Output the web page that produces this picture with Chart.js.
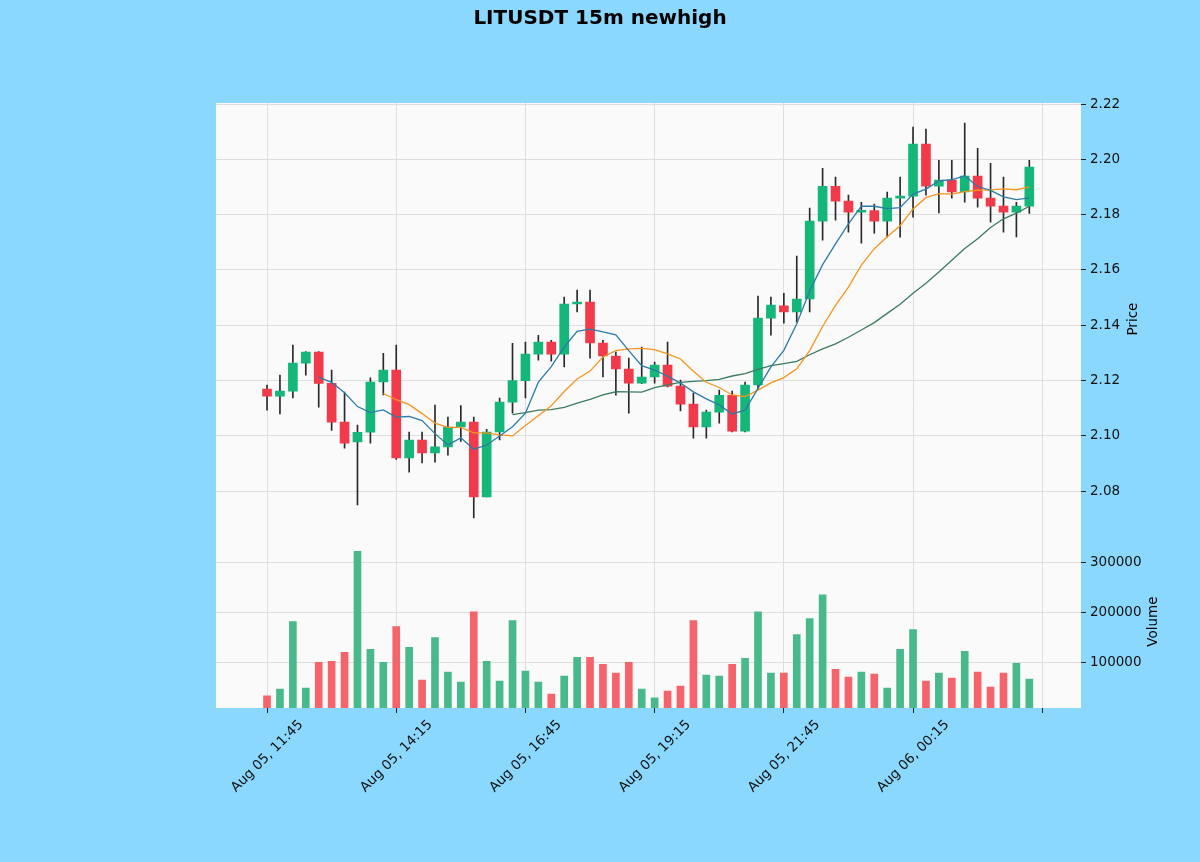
<!DOCTYPE html>
<html>
<head>
<meta charset="utf-8">
<title>LITUSDT 15m newhigh</title>
<script src="https://cdn.jsdelivr.net/npm/chart.js@4.4.1/dist/chart.umd.min.js"></script>
<style>
  html, body { margin: 0; padding: 0; background: #8ad8fe; }
  .wrap { position: relative; width: 1200px; height: 862px; }
  .js-chart { position: absolute; left: 0; top: 0; }
  .title {
    position: absolute; top: 5px; left: 0; width: 1200px;
    text-align: center; font: bold 20px "DejaVu Sans"; line-height: 24px; color: #000;
  }
</style>
</head>
<body>
<div class="wrap">
  <canvas class="js-chart" width="1200" height="862"></canvas>
  <div class="title">LITUSDT 15m newhigh</div>
</div>
<script>
const ctx = document.querySelector(".js-chart").getContext("2d");

// x ticks every 10 candles (2.5 h); the last tick has no label
const X_TICKS = [0, 10, 20, 30, 40, 50, 60];
const TICK_LABELS = [
  "Aug 05, 11:45", "Aug 05, 14:15", "Aug 05, 16:45",
  "Aug 05, 19:15", "Aug 05, 21:45", "Aug 06, 00:15", "",
];
const PRICE_TICKS = [2.08, 2.10, 2.12, 2.14, 2.16, 2.18, 2.20, 2.22];
const VOLUME_TICKS = [100000, 200000, 300000];

const OPENS = [
  2.1169, 2.1144, 2.1162, 2.1263, 2.1303, 2.1190, 2.1050, 2.0978, 2.1013, 2.1195,
  2.1238, 2.0920, 2.0985, 2.0938, 2.0960, 2.1032, 2.1050, 2.0779, 2.1014, 2.1122,
  2.1200, 2.1296, 2.1339, 2.1296, 2.1477, 2.1484, 2.1336, 2.1289, 2.1242, 2.1191,
  2.1213, 2.1256, 2.1180, 2.1115, 2.1032, 2.1086, 2.1147, 2.1017, 2.1184, 2.1426,
  2.1470, 2.1448, 2.1495, 2.1777, 2.1903, 2.1849, 2.1809, 2.1815, 2.1777, 2.1860,
  2.1867, 2.2055, 2.1903, 2.1925, 2.1882, 2.1940, 2.1860, 2.1831, 2.1809, 2.1831,
];
const HIGHS = [
  2.1184, 2.1220, 2.1328, 2.1305, 2.1305, 2.1238, 2.1158, 2.1039, 2.1210, 2.1299,
  2.1328, 2.1014, 2.1014, 2.1111, 2.1068, 2.1110, 2.1068, 2.1024, 2.1137, 2.1335,
  2.1339, 2.1364, 2.1346, 2.1502, 2.1527, 2.1527, 2.1346, 2.1303, 2.1281, 2.1321,
  2.1267, 2.1339, 2.1202, 2.1155, 2.1093, 2.1166, 2.1162, 2.1195, 2.1506, 2.1502,
  2.1516, 2.1650, 2.1824, 2.1968, 2.1936, 2.1871, 2.1845, 2.1838, 2.1882, 2.1936,
  2.2117, 2.2110, 2.1997, 2.1997, 2.2131, 2.2040, 2.1986, 2.1936, 2.1845, 2.1997,
];
const LOWS = [
  2.1093, 2.1079, 2.1137, 2.1220, 2.1104, 2.1020, 2.0956, 2.0750, 2.0974, 2.1148,
  2.0915, 2.0869, 2.0902, 2.0905, 2.0930, 2.0980, 2.0703, 2.0779, 2.0985, 2.1082,
  2.1137, 2.1274, 2.1270, 2.1249, 2.1448, 2.1281, 2.1213, 2.1147, 2.1082, 2.1189,
  2.1191, 2.1177, 2.1090, 2.0992, 2.0992, 2.1046, 2.1014, 2.1014, 2.1170, 2.1364,
  2.1408, 2.1411, 2.1448, 2.1708, 2.1780, 2.1737, 2.1697, 2.1733, 2.1719, 2.1719,
  2.1791, 2.1871, 2.1806, 2.1860, 2.1845, 2.1827, 2.1773, 2.1737, 2.1720, 2.1805,
];
const CLOSES = [
  2.1144, 2.1162, 2.1263, 2.1303, 2.1190, 2.1050, 2.0974, 2.1013, 2.1195, 2.1238,
  2.0920, 2.0985, 2.0938, 2.0960, 2.1032, 2.1050, 2.0779, 2.1014, 2.1122, 2.1200,
  2.1296, 2.1339, 2.1296, 2.1477, 2.1484, 2.1336, 2.1289, 2.1242, 2.1191, 2.1213,
  2.1256, 2.1180, 2.1115, 2.1032, 2.1086, 2.1147, 2.1017, 2.1184, 2.1426, 2.1473,
  2.1448, 2.1495, 2.1777, 2.1903, 2.1849, 2.1809, 2.1815, 2.1777, 2.1860, 2.1867,
  2.2055, 2.1903, 2.1925, 2.1882, 2.1940, 2.1860, 2.1831, 2.1809, 2.1831, 2.1972,
];
const VOLUMES = [
  32700, 46500, 181200, 48500, 100000, 102000, 119800, 321800, 125700, 100000,
  171300, 129700, 64400, 149500, 80200, 60400, 201000, 102000, 62400, 183200,
  82200, 60400, 36600, 72300, 109900, 109900, 96000, 78200, 100000, 46500,
  28700, 42600, 52500, 183200, 74300, 72300, 96000, 107900, 201000, 78200,
  78200, 155400, 187100, 234700, 86100, 70300, 80200, 76200, 48500, 125700,
  165300, 62400, 78200, 68300, 121800, 80200, 50500, 78200, 98000, 66300,
];

const MAV_WINDOWS = [5, 10, 20];
const MAV_COLORS = ["#2b7ba6", "#f5951f", "#3a7c5e"];

const UP = "#14b67a";
const DOWN = "#f23b4a";
const UP_VOL = "#48b98b";
const DOWN_VOL = "#f5636b";
const GRID = "#dedede";
const FONT = { family: "DejaVu Sans", size: 13.5 };

const isUp = (i) => CLOSES[i] >= OPENS[i];

// rolling mean of the closes, as the original indicator lines
function movingAverage(values, n) {
  return values.map((_, i) => {
    if (i < n - 1) return { x: i, y: null };
    const win = values.slice(i - n + 1, i + 1);
    return { x: i, y: win.reduce((a, b) => a + b, 0) / n };
  });
}

const fixedTicks = (values) => (scale) => {
  scale.ticks = values.map((value) => ({ value }));
};

const panelBackground = {
  id: "panelBackground",
  beforeDraw(chart) {
    const { ctx, chartArea: a } = chart;
    ctx.save();
    ctx.fillStyle = "#fafafa";
    ctx.fillRect(a.left, a.top, a.right - a.left, a.bottom - a.top);
    ctx.restore();
  },
};

// matplotlib-style right ylabels, reading bottom to top
const axisTitles = {
  id: "axisTitles",
  afterDraw(chart) {
    const { ctx, chartArea: a, scales } = chart;
    [[scales.y, "Price", 52], [scales.yv, "Volume", 72]].forEach(([s, text, dx]) => {
      ctx.save();
      ctx.translate(a.right + dx, (s.top + s.bottom) / 2);
      ctx.rotate(-Math.PI / 2);
      ctx.font = '13.5px "DejaVu Sans"';
      ctx.fillStyle = "#000";
      ctx.textAlign = "center";
      ctx.textBaseline = "middle";
      ctx.fillText(text, 0, 0);
      ctx.restore();
    });
  },
};

const idx = CLOSES.map((_, i) => i);

new Chart(ctx, {
  data: {
    datasets: [
      ...MAV_WINDOWS.map((n, k) => ({
        type: "line",
        data: movingAverage(CLOSES, n),
        borderColor: MAV_COLORS[k],
        borderWidth: 1.3,
        pointRadius: 0,
        spanGaps: false,
        yAxisID: "y",
        order: 0,
      })),
      {
        type: "bar",
        data: idx.map((i) => ({ x: i, y: [OPENS[i], CLOSES[i]] })),
        backgroundColor: idx.map((i) => (isUp(i) ? UP : DOWN)),
        barThickness: 9,
        minBarLength: 2,
        grouped: false,
        yAxisID: "y",
        order: 1,
      },
      {
        type: "bar",
        data: idx.map((i) => ({ x: i, y: [LOWS[i], HIGHS[i]] })),
        backgroundColor: "#2a2a2a",
        barThickness: 1,
        grouped: false,
        yAxisID: "y",
        order: 2,
      },
      {
        type: "bar",
        data: idx.map((i) => ({ x: i, y: VOLUMES[i] })),
        backgroundColor: idx.map((i) => (isUp(i) ? UP_VOL : DOWN_VOL)),
        barThickness: 7,
        grouped: false,
        yAxisID: "yv",
        order: 3,
      },
    ],
  },
  options: {
    responsive: false,
    animation: false,
    layout: { padding: { left: 216, top: 103, right: 0, bottom: 0 } },
    plugins: { legend: { display: false }, tooltip: { enabled: false } },
    scales: {
      x: {
        type: "linear",
        min: -3.95,
        max: 63,
        offset: false,
        grid: { offset: false, color: GRID, tickColor: "#222", tickLength: 5 },
        border: { display: false },
        afterBuildTicks: fixedTicks(X_TICKS),
        ticks: {
          autoSkip: false,
          minRotation: 45,
          maxRotation: 45,
          labelOffset: 34,
          padding: 4,
          color: "#111",
          font: FONT,
          callback: (v) => TICK_LABELS[X_TICKS.indexOf(v)] ?? "",
        },
        afterFit(s) { s.height = 154; },
      },
      y: {
        type: "linear",
        position: "right",
        stack: "panes",
        stackWeight: 2.5,
        min: 2.0641,
        max: 2.2204,
        grid: { color: GRID, tickColor: "#222", tickLength: 5 },
        border: { display: false },
        afterBuildTicks: fixedTicks(PRICE_TICKS),
        ticks: {
          padding: 4,
          color: "#111",
          font: FONT,
          callback: (v) => v.toFixed(2),
        },
        afterFit(s) { s.width = 119; },
      },
      yv: {
        type: "linear",
        position: "right",
        stack: "panes",
        stackWeight: 1,
        min: 8610,
        max: 354000,
        grid: { color: GRID, tickColor: "#222", tickLength: 5 },
        border: { display: false },
        afterBuildTicks: fixedTicks(VOLUME_TICKS),
        ticks: {
          padding: 4,
          color: "#111",
          font: FONT,
          callback: (v) => String(v),
        },
        afterFit(s) { s.width = 119; },
      },
    },
  },
  plugins: [panelBackground, axisTitles],
});
</script>
</body>
</html>
